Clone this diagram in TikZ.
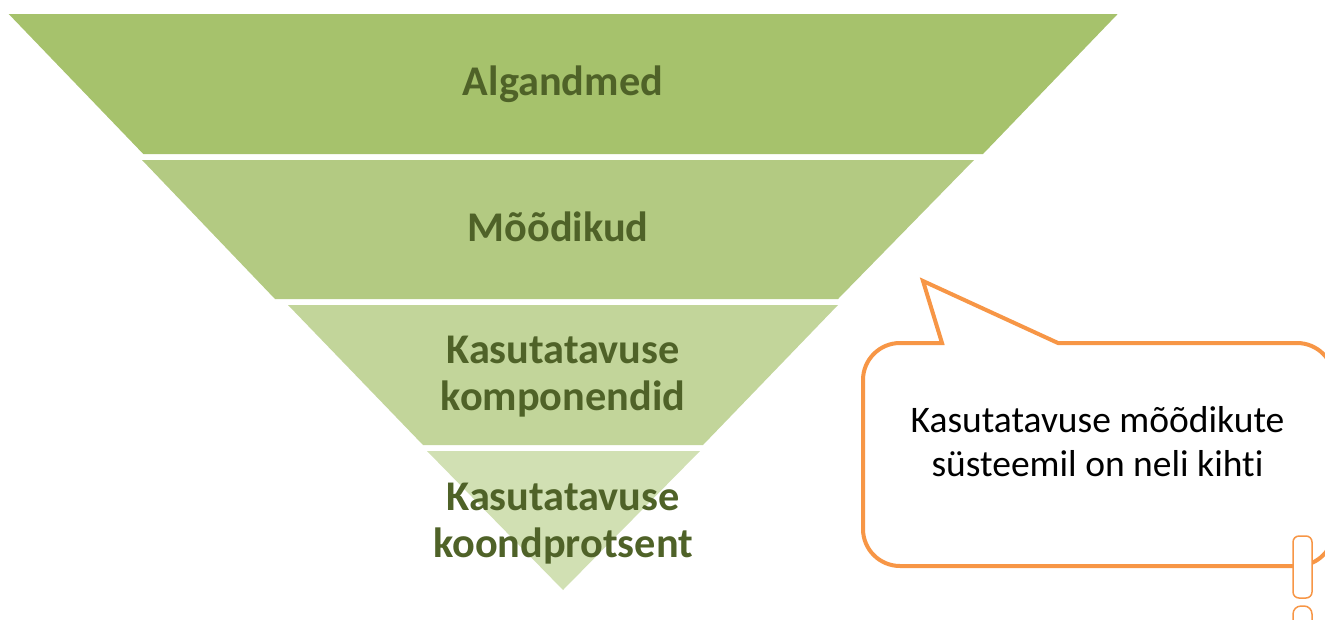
\documentclass[tikz,border=0pt]{standalone}
\usepackage{fontspec}
\setmainfont{Carlito}[Ligatures=NoCommon]
\definecolor{bandA}{HTML}{A6C26C}
\definecolor{bandB}{HTML}{B3CA82}
\definecolor{bandC}{HTML}{C2D59A}
\definecolor{bandD}{HTML}{D1E0B3}
\definecolor{labelgreen}{HTML}{4F6228}
\definecolor{calloutorange}{HTML}{F79646}
\tikzset{
  bandlabel/.style={text=labelgreen, font=\bfseries\fontsize{42.3}{46.5}\selectfont, align=center, inner sep=0pt, anchor=base},
  callouttext/.style={text=black, font=\fontsize{37.5}{44}\selectfont, align=center, inner sep=0pt, anchor=base},
  calloutline/.style={draw=calloutorange, line width=4pt, line join=miter, fill=white},
  bangpart/.style={draw=calloutorange, line width=1.5pt, fill=white, rounded corners=6pt},
}
\begin{document}
\begin{tikzpicture}[x=1pt, y=-1pt]
  \useasboundingbox (0,0) rectangle (1325,619);
  \clip (0,0) rectangle (1325,619);

  % inverted funnel, four layers
  \fill[bandA] (8.7,14) -- (1117.7,14) -- (983,154) -- (143.3,154) -- cycle;
  \fill[bandB] (142,160) -- (974,160) -- (838,299) -- (275,299) -- cycle;
  \fill[bandC] (288,305) -- (838,305) -- (703,445) -- (423,445) -- cycle;
  \fill[bandD] (427,451) -- (700,451) -- (563,590) -- cycle;

  % labels: the base anchor of a two-line label sits on its last line
  \node[bandlabel] (l1) at (563,95.7) {Algandmed};
  \node[bandlabel] (l2) at (558,241.7) {Mõõdikud};
  \node[bandlabel] (l3) at (563,410) {Kasutatavuse\\komponendid};
  \node[bandlabel] (l4) at (563,557) {Kasutatavuse\\koondprotsent};

  % speech bubble pointing at the funnel
  \draw[calloutline] (1058,343) -- (1297,343)
    arc[start angle=270, end angle=360, radius=37] -- (1334,529)
    arc[start angle=0, end angle=90, radius=37] -- (900,566)
    arc[start angle=90, end angle=180, radius=37] -- (863,380)
    arc[start angle=180, end angle=270, radius=37] -- (942,343)
    -- (923,281) -- cycle;
  \node[callouttext] (note) at (1097.5,476) {Kasutatavuse mõõdikute\\süsteemil on neli kihti};

  % exclamation mark
  \draw[bangpart] (1293,536) rectangle (1312,598);
  \draw[bangpart, rounded corners=8pt] (1293,606) rectangle (1312,628);
\end{tikzpicture}
\end{document}
